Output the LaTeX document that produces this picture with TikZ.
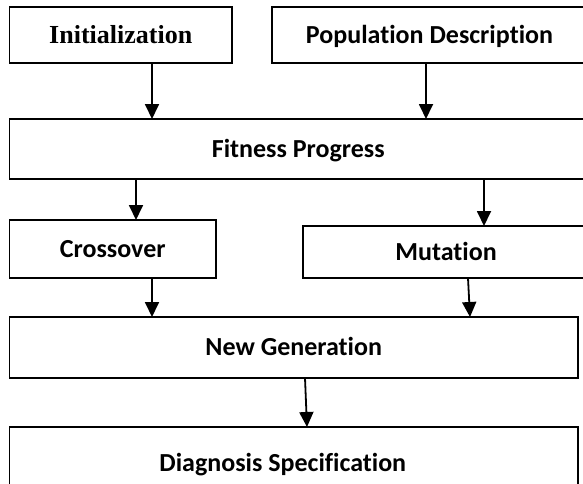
\documentclass[tikz,border=0pt]{standalone}
\usepackage{fontspec}
\setmainfont{Carlito}[Ligatures={NoCommon}]
\newfontfamily\timesf{Liberation Serif}
\usetikzlibrary{arrows.meta}
\begin{document}
\begin{tikzpicture}[x=1pt,y=-1pt,
  box/.style={draw, line width=1.8pt, inner sep=0pt, outer sep=0pt,
    font=\fontsize{26}{30}\selectfont\bfseries, text height=16.7pt, text depth=0pt},
  serifbox/.style={box, font=\timesf\fontsize{26}{30}\selectfont\bfseries, text height=17.2pt},
  arr/.style={-{Triangle[width=14pt,length=15pt]}, line width=1.8pt}]
\useasboundingbox (0,0) rectangle (583,483);
\clip (0,0) rectangle (583,483);
\fill[white] (0,0) rectangle (583,483);

\node[serifbox, minimum width=222.5pt, minimum height=56pt] (init) at (120.75,35) {Initialization};
\node[box, minimum width=315pt, minimum height=56pt] (pop) at (429.5,35) {Population Description};
\node[box, minimum width=577.5pt, minimum height=60pt] (fit) at (298.25,149) {Fitness Progress};
\node[box, minimum width=206.5pt, minimum height=58pt] (cross) at (112.75,249) {Crossover};
\node[box, minimum width=286pt, minimum height=52pt] (mut) at (446,252) {Mutation};
\node[box, minimum width=568.5pt, minimum height=61pt] (ng) at (293.75,347.5) {New Generation};
\node[box, minimum width=568.5pt, minimum height=72pt] (diag) at (293.75,463) {Diagnosis Specification\hspace*{22pt}};

\draw[arr] ([xshift=142.5]init.south west) -- ([xshift=142.5]fit.north west);
\draw[arr] ([xshift=154]pop.south west) -- ([xshift=416.5]fit.north west);
\draw[arr] ([xshift=126.5]fit.south west) -- ([xshift=126.5]cross.north west);
\draw[arr] ([xshift=474.5]fit.south west) -- ([xshift=181]mut.north west);
\draw[arr] ([xshift=142.5]cross.south west) -- ([xshift=142.5]ng.north west);
\draw[arr] ([xshift=165]mut.south west) -- ([xshift=460.5]ng.north west);
\draw[arr] ([xshift=295.5]ng.south west) -- ([xshift=297.5]diag.north west);
\end{tikzpicture}
\end{document}
